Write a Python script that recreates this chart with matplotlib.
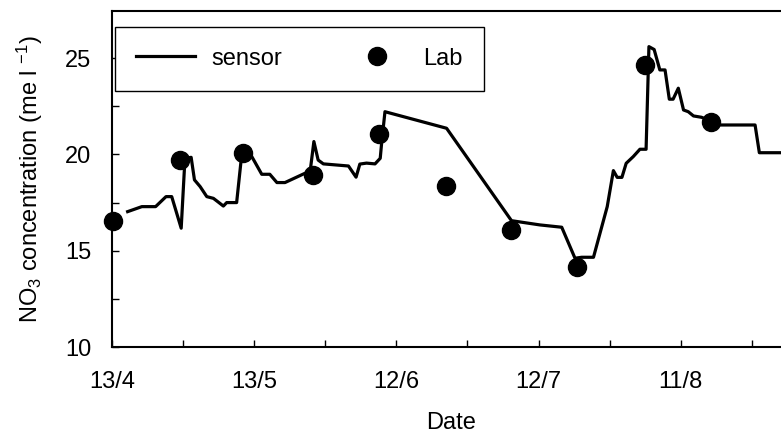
import matplotlib
matplotlib.use("Agg")
import matplotlib.pyplot as plt
from matplotlib.ticker import MultipleLocator

plt.rcParams['font.family'] = ['Liberation Sans', 'DejaVu Sans']
plt.rcParams['mathtext.fontset'] = 'custom'
plt.rcParams['mathtext.rm'] = 'Liberation Sans'
plt.rcParams['mathtext.it'] = 'Liberation Sans:italic'

# Days counted from 13/4
sensor_day = [3.3, 6.3, 9.2, 11.4, 12.6, 14.6, 15.4, 16.7, 17.4, 18.6, 20.0, 21.4,
              22.3, 23.5, 24.2, 26.3, 27.4, 29.5, 31.6, 33.3, 34.8, 36.5, 40.7, 41.8,
              42.6, 43.5, 44.6, 49.9, 51.5, 52.3, 53.7, 55.5, 56.6, 56.9, 57.6, 70.6,
              84.3, 90.3, 94.9, 97.7, 99.1, 101.6, 104.5, 105.8, 106.6, 107.6, 108.5,
              110.0, 111.4, 112.7, 113.3, 114.4, 115.6, 116.7, 117.6, 118.4, 119.5,
              120.6, 121.6, 122.7, 124.4, 128.3, 135.7, 136.6, 145.0]
sensor_no3 = [17.03, 17.29, 17.29, 17.81, 17.81, 16.17, 19.80, 19.85, 18.68, 18.33, 17.81, 17.72,
              17.55, 17.32, 17.50, 17.50, 20.06, 19.89, 18.97, 18.97, 18.54, 18.54, 19.02, 19.10,
              20.67, 19.71, 19.51, 19.40, 18.82, 19.50, 19.55, 19.51, 19.80, 20.60, 22.22, 21.36,
              16.56, 16.34, 16.22, 14.61, 14.66, 14.66, 17.29, 19.16, 18.81, 18.81, 19.54,
              19.89, 20.27, 20.27, 25.60, 25.45, 24.39, 24.39, 22.87, 22.87, 23.44,
              22.31, 22.22, 22.00, 21.93, 21.53, 21.53, 20.09, 20.09]

lab_day = [0.2, 14.3, 27.7, 42.4, 56.3, 70.5, 84.3, 98.2, 112.5, 126.3]
lab_no3 = [16.55, 19.71, 20.09, 18.93, 21.05, 18.38, 16.08, 14.14, 24.65, 21.70]

tick_days = [0, 30, 60, 90, 120]
tick_labels = ["13/4", "13/5", "12/6", "12/7", "11/8"]

fs = 17

fig = plt.figure(figsize=(7.81, 4.38), dpi=100)
# axes run a little past the right edge of the picture, as in the original
ax = fig.add_axes([112 / 781, 91 / 438, 678 / 781, 336 / 438])

ax.plot(sensor_day, sensor_no3, color='black', lw=2.3, label='sensor', zorder=2)
ax.plot(lab_day, lab_no3, 'o', color='black', ms=13, label='Lab', clip_on=False, zorder=3)

ax.set_xlim(0, 678 / 4.739)
ax.set_ylim(10, 27.45)
ax.set_xticks(tick_days)
ax.set_xticklabels(tick_labels)
ax.xaxis.set_minor_locator(MultipleLocator(15))
ax.yaxis.set_major_locator(MultipleLocator(5))
ax.yaxis.set_minor_locator(MultipleLocator(2.5))
ax.tick_params(which='both', direction='in', length=5, width=1, labelsize=fs)
ax.tick_params(axis='x', pad=17)
ax.tick_params(axis='y', pad=15)

for s in ax.spines.values():
    s.set_linewidth(1.5)

ax.set_xlabel("Date", fontsize=fs, labelpad=14)
ax.set_ylabel(r"NO$_3$ concentration (me l $^{-1}$)", fontsize=fs, labelpad=14)

leg = ax.legend(ncol=2, loc='lower left', bbox_to_anchor=(3 / 678, 256 / 336, 369 / 678, 68 / 336),
                mode='expand', fontsize=fs, frameon=True, fancybox=False, edgecolor='black',
                framealpha=1, borderpad=0.9, handlelength=2.5, handletextpad=0.7,
                borderaxespad=0, numpoints=1)
leg.get_frame().set_linewidth(1.0)

plt.savefig("out.png", dpi=100)
